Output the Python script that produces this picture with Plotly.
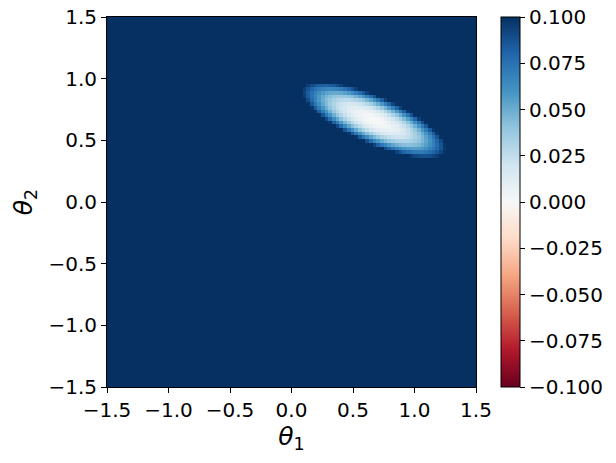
import numpy as np
import plotly.graph_objects as go

# Grid of parameter values (cell centers)
n_cells = 100
theta_min, theta_max = -1.5, 1.5

# Quadratic loss surface parameters
center = [0.67, 0.665]        # minimum location (theta1, theta2)
semi_axes = [0.635, 0.19]     # semi-axes of the L = 0.1 contour
angle_deg = -23.7             # orientation of the major axis
level = 0.1                   # value on that contour

tick_vals = [-1.5, -1.0, -0.5, 0.0, 0.5, 1.0, 1.5]
cbar_ticks = [-0.1, -0.075, -0.05, -0.025, 0.0, 0.025, 0.05, 0.075, 0.1]

# matplotlib RdBu
rdbu = ["#67001f", "#b2182b", "#d6604d", "#f4a582", "#fddbc7", "#f7f7f7",
        "#d1e5f0", "#92c5de", "#4393c3", "#2166ac", "#053061"]

t = np.linspace(theta_min, theta_max, n_cells + 1)
c = (t[:-1] + t[1:]) / 2
T1, T2 = np.meshgrid(c, c)
ang = np.deg2rad(angle_deg)
u = (T1 - center[0]) * np.cos(ang) + (T2 - center[1]) * np.sin(ang)
v = -(T1 - center[0]) * np.sin(ang) + (T2 - center[1]) * np.cos(ang)
Z = level * ((u / semi_axes[0]) ** 2 + (v / semi_axes[1]) ** 2)

colorscale = [[i / (len(rdbu) - 1), col] for i, col in enumerate(rdbu)]

FONT = "DejaVu Sans"
TICK_SIZE = 20
LABEL_SIZE = 25

fig = go.Figure(go.Heatmap(
    x=c, y=c, z=Z, zmin=-0.1, zmax=0.1, colorscale=colorscale,
    colorbar=dict(
        x=(501 - 107) / 369, xanchor="left", xref="paper",
        y=0.5, yanchor="middle", len=1, lenmode="fraction",
        thickness=19, thicknessmode="pixels", xpad=0, ypad=0,
        outlinewidth=1, outlinecolor="black",
        tickvals=cbar_ticks, ticktext=[f"{v:.3f}".replace("-", "\u2212") for v in cbar_ticks],
        ticks="outside", ticklen=5, tickcolor="black", tickwidth=1,
        tickfont=dict(size=TICK_SIZE, color="black", family=FONT),
    ),
))

axis_common = dict(
    range=[theta_min, theta_max], tickvals=tick_vals,
    ticktext=[f"{v:.1f}".replace("-", "\u2212") for v in tick_vals],
    ticks="outside", ticklen=5, tickwidth=1, tickcolor="black",
    showline=True, linecolor="black", linewidth=1, mirror=True,
    showgrid=False, zeroline=False, automargin=False,
    tickfont=dict(size=TICK_SIZE, color="black", family=FONT),
)

fig.update_layout(
    width=616, height=463,
    margin=dict(l=107, r=140, t=17, b=76, autoexpand=False),
    paper_bgcolor="white", plot_bgcolor="white",
    xaxis=dict(**axis_common, title=dict(text="<i>θ</i><sub>1</sub>",
               font=dict(size=LABEL_SIZE, color="black", family=FONT), standoff=6)),
    yaxis=dict(**axis_common, title=dict(text="<i>θ</i><sub>2</sub>",
               font=dict(size=LABEL_SIZE, color="black", family=FONT), standoff=8)),
)

fig.write_html("out.html", config={"displayModeBar": False})

# remove the default page margin so the figure sits at the window origin
with open("out.html", "r", encoding="utf-8") as f:
    html = f.read()
html = html.replace("<body>", '<body style="margin:0;padding:0;overflow:hidden">', 1)
with open("out.html", "w", encoding="utf-8") as f:
    f.write(html)
